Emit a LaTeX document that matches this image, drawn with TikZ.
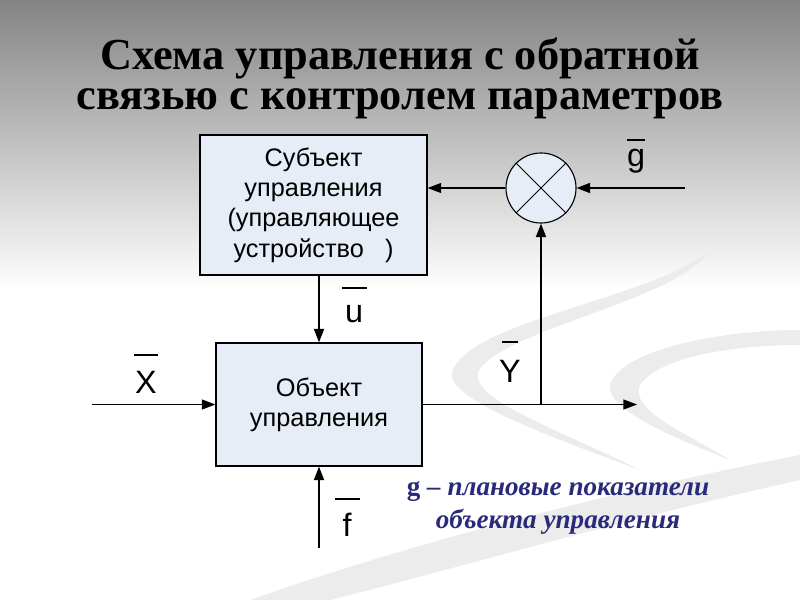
\documentclass[tikz,border=0pt]{standalone}
\usepackage{fontspec}
\setmainfont{Liberation Serif}
\setsansfont{Liberation Sans}
\usetikzlibrary{arrows.meta,positioning}
\definecolor{boxfill}{RGB}{231,237,246}
\definecolor{notecol}{RGB}{42,42,122}
\definecolor{swoosh}{RGB}{236,236,236}
\tikzset{
  blok/.style={draw, line width=0.8pt, fill=boxfill, align=center,
    font=\sffamily\fontsize{18}{21.5}\selectfont},
  sig/.style={font=\sffamily\fontsize{23}{26}\selectfont, inner sep=0pt},
  thin arr/.style={line width=0.9pt, -{Triangle[length=3.4mm,width=2.5mm]}},
  thick arr/.style={line width=1.4pt, -{Triangle[length=3.4mm,width=2.5mm]}},
}
\begin{document}
\begin{tikzpicture}[x=0.025cm,y=-0.025cm]
% background
\useasboundingbox (0,0) rectangle (800,600);
\fill[white] (0,0) rectangle (800,600);
\shade[top color={rgb,255:red,132;green,132;blue,132}, bottom color=white]
  (0,0) rectangle (800,290);
\fill[swoosh] (710,250) .. controls (650,300) and (470,320) .. (452,372)
  .. controls (445,400) and (560,440) .. (640,470)
  .. controls (560,430) and (470,400) .. (478,372)
  .. controls (500,330) and (680,300) .. (710,250) -- cycle;
\fill[swoosh] (800,330) .. controls (720,330) and (620,350) .. (610,385)
  .. controls (605,410) and (680,440) .. (730,460)
  .. controls (680,430) and (630,410) .. (640,385)
  .. controls (660,355) and (740,345) .. (800,345) -- cycle;
\fill[swoosh] (250,600) .. controls (420,540) and (620,490) .. (800,455)
  -- (800,480) .. controls (620,520) and (450,570) .. (330,600) -- cycle;
% title
\node[font=\bfseries\fontsize{31.5}{28.5}\selectfont, align=center] (title) at (400,78)
  {Схема управления с обратной\\связью с контролем параметров};
% blocks
\node[blok, minimum width=5.675cm, minimum height=3.5cm] (subj) at (313.5,205)
  {Субъект\\управления\\(управляющее\\устройство~~~)};
\node[blok, minimum width=5.15cm, minimum height=3.075cm] (obj) at (319,404.5)
  {Объект\\управления};
\node[draw, circle, line width=0.8pt, fill=boxfill, minimum size=1.75cm] (sum) at (541,188) {};
\draw[line width=0.6pt] (sum.north west) -- (sum.south east);
\draw[line width=0.6pt] (sum.north east) -- (sum.south west);
% free ends
\coordinate (xin) at (92,404.5);
\coordinate (fin) at (319,548);
\coordinate (yout) at (637,404.5);
\coordinate (yj) at (541,404.5);
\coordinate (gin) at (685,188);
% connectors
\draw[thick arr] (subj.south -| obj.north) -- (obj.north);
\draw[thin arr] (xin) -- (obj.west);
\draw[thick arr] (fin) -- (obj.south);
\draw[thin arr] (obj.east) -- (yout);
\draw[thick arr] (yj) -- (sum.south);
\draw[thick arr] (gin) -- (sum.east);
\draw[thin arr] (sum.west) -- (sum.west -| subj.east);
% signal labels
\node[sig, anchor=base] (lx) at (146,393) {X};
\draw[line width=1pt] (134,355) -- (158,355);
\node[sig, anchor=base] (lu) at (354,322) {u};
\draw[line width=1pt] (342,288) -- (367,288);
\node[sig, anchor=base] (lf) at (347,536) {f};
\draw[line width=1pt] (335,499) -- (360,499);
\node[sig, anchor=base] (ly) at (510,382) {Y};
\draw[line width=1pt] (502,342) -- (518,342);
\node[sig, anchor=base] (lg) at (636,166) {g};
\draw[line width=1pt] (627,140) -- (645,140);
% note
\node[font=\bfseries\itshape\fontsize{19.3}{23}\selectfont, text=notecol, align=center]
  (note) at (558,508) {\upshape g\itshape{} – плановые показатели\\объекта управления};
\end{tikzpicture}
\end{document}
